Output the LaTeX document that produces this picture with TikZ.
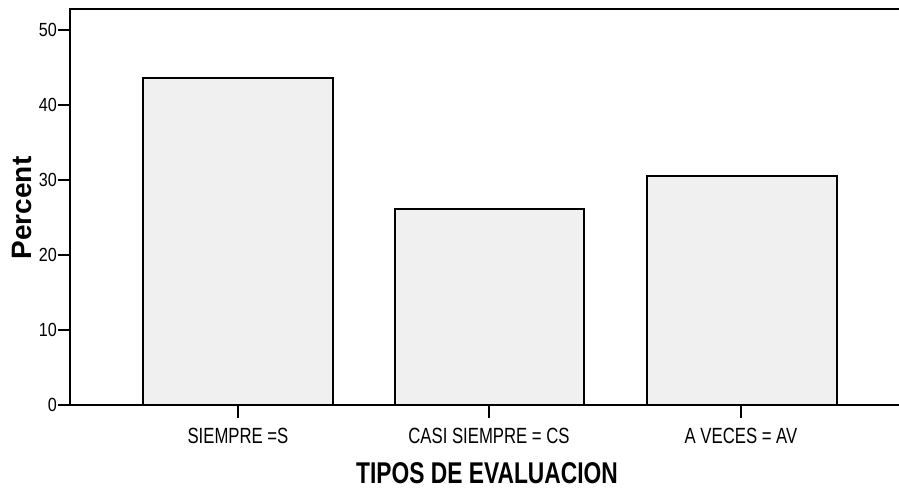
\documentclass[tikz,border=0pt]{standalone}
\usepackage{fontspec}
\setmainfont{Liberation Sans}
\newfontfamily\narrowfont[FakeStretch=0.76]{Liberation Sans}
\newfontfamily\ticklabfont[FakeStretch=0.85]{Liberation Sans}
\begin{document}
\begin{tikzpicture}[x=1pt,y=-1pt,
  axisline/.style={line width=2pt,black},
  barbox/.style={line width=2pt,black,fill=black!6},
  ytick/.style={line width=1.6pt},
  ylab/.style={anchor=east,inner sep=0pt,font=\ticklabfont\fontsize{19}{19}\selectfont},
  catlab/.style={anchor=center,inner sep=0pt,font=\narrowfont\fontsize{22}{22}\selectfont},
  titlelab/.style={anchor=center,inner sep=0pt,font=\narrowfont\bfseries\fontsize{30}{30}\selectfont}]
\useasboundingbox (0,0) rectangle (899,491);
% bars
\draw[barbox] (143,405) rectangle (333,78);
\draw[barbox] (395,405) rectangle (584,209);
\draw[barbox] (647,405) rectangle (837,176);
% frame
\coordinate (tl) at (70,9);
\coordinate (tr) at (899,9);
\coordinate (bl) at (70,405);
\coordinate (br) at (899,405);
\draw[axisline] (tr) -- (tl) -- (bl) -- (br);
% y ticks
\foreach \v in {0,10,20,30,40,50}{
  \coordinate (yt\v) at (58,{405-7.5*\v});
  \draw[ytick] (yt\v) -- ++(12,0);
  \node[ylab] (yl\v) at ([xshift=-1pt]yt\v) {\v};
}
% category ticks
\foreach \x/\n in {238/a,489/b,741/c}{
  \coordinate (ct\n) at (\x,405);
  \draw[ytick] (ct\n) -- ++(0,13);
}
\node[catlab] (la) at (238,436) {SIEMPRE =S};
\node[catlab] (lb) at (489,436) {CASI SIEMPRE = CS};
\node[catlab] (lc) at (741,436) {A VECES = AV};
\node[titlelab] (title) at (487,473) {TIPOS DE EVALUACION};
\node[rotate=90,inner sep=0pt,font=\bfseries\fontsize{28}{28}\selectfont] (ylabel) at (22,208) {Percent};
\end{tikzpicture}
\end{document}
